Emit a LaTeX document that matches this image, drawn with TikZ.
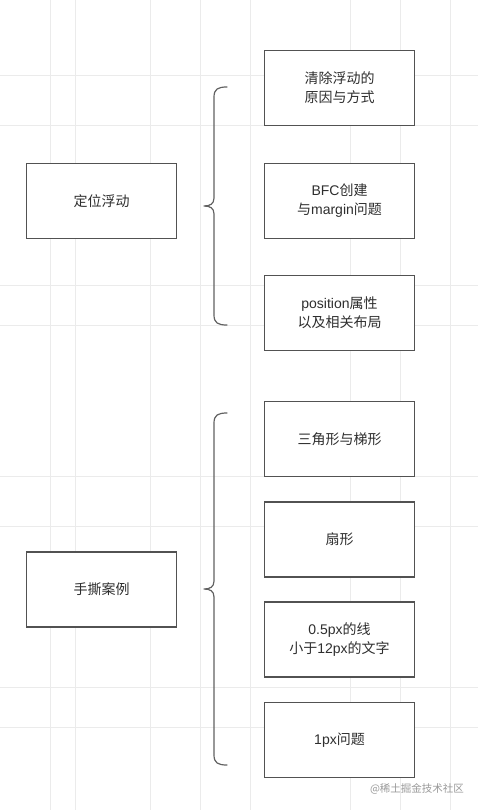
\documentclass[tikz,border=0pt]{standalone}
\usepackage{fontspec}
\setmainfont{Noto Sans CJK SC}
\newfontfamily\latf{Liberation Sans}
\newcommand{\lt}[1]{{\latf #1}}
\begin{document}
\begin{tikzpicture}[x=1pt,y=-1pt,
  gridline/.style={draw=black!8,line width=0.8pt},
  box/.style={draw=black!68,line width=1.3pt,fill=white,minimum width=150pt,minimum height=75pt,inner sep=0pt,
    align=center,font=\fontsize{14}{19}\selectfont,text=black!82},
  brace/.style={draw=black!62,line width=1.2pt,line cap=round,line join=round}]
\useasboundingbox (0,0) rectangle (478,810);
\fill[white] (0,0) rectangle (478,810);
% grid
\foreach \gx in {50,75,150,200,250,350,400,450} \draw[gridline] (\gx,0) -- (\gx,810);
\foreach \gy in {75,125,285,325,476,526,687,727} \draw[gridline] (0,\gy) -- (478,\gy);
% left nodes
\node[box] (L1) at (101.5,201) {定位浮动};
\node[box] (L2) at (101.5,589.5) {手撕案例};
% right nodes
\node[box] (R1) at (339.5,88) {清除浮动的\\原因与方式};
\node[box] (R2) at (339.5,201) {\lt{BFC}创建\\与\lt{margin}问题};
\node[box] (R3) at (339.5,313) {\lt{position}属性\\以及相关布局};
\node[box] (R4) at (339.5,439) {三角形与梯形};
\node[box] (R5) at (339.5,539.5) {扇形};
\node[box] (R6) at (339.5,639.5) {\lt{0.5px}的线\\小于\lt{12px}的文字};
\node[box] (R7) at (339.5,740) {\lt{1px}问题};
% braces
\coordinate (B1t) at (227,87);
\coordinate (B1m) at (204,206);
\coordinate (B1b) at (227,325);
\draw[brace] (B1t) .. controls (218,87) and (214,89) .. (214,97)
  -- (214,198) .. controls (214,204) and (210,206) .. (B1m)
  .. controls (210,206) and (214,208) .. (214,214)
  -- (214,315) .. controls (214,323) and (218,325) .. (B1b);
\coordinate (B2t) at (227,413);
\coordinate (B2m) at (204,589);
\coordinate (B2b) at (227,765);
\draw[brace] (B2t) .. controls (218,413) and (214,415) .. (214,423)
  -- (214,581) .. controls (214,587) and (210,589) .. (B2m)
  .. controls (210,589) and (214,591) .. (214,597)
  -- (214,755) .. controls (214,763) and (218,765) .. (B2b);
% watermark
\node[font=\fontsize{10.5}{12}\selectfont,text=black!40,inner sep=0pt] (wm) at (417,789) {@稀土掘金技术社区};
\end{tikzpicture}
\end{document}
